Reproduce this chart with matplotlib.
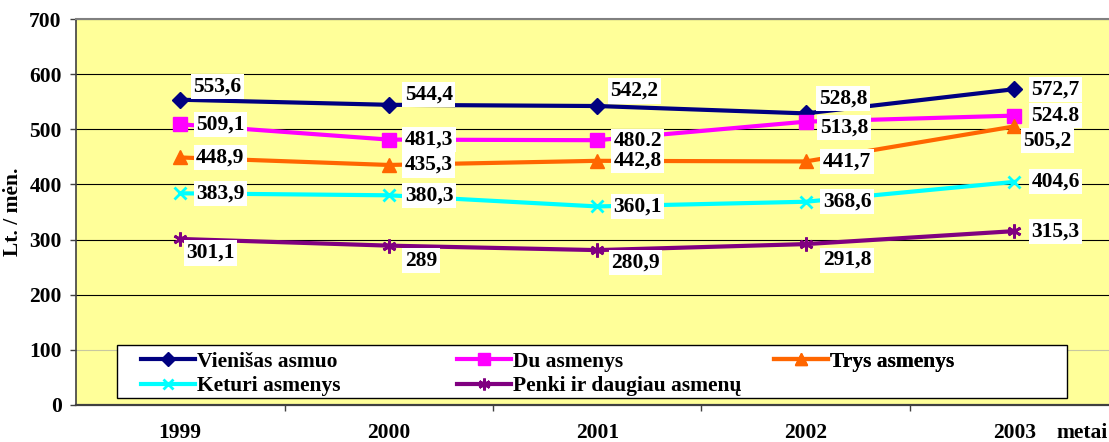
import matplotlib
matplotlib.use("Agg")
import matplotlib.pyplot as plt
from matplotlib.patches import Rectangle

years = ["1999", "2000", "2001", "2002", "2003"]

vienisas = [553.6, 544.4, 542.2, 528.8, 572.7]
du = [509.1, 481.3, 480.2, 513.8, 524.8]
trys = [448.9, 435.3, 442.8, 441.7, 505.2]
keturi = [383.9, 380.3, 360.1, 368.6, 404.6]
penki = [301.1, 289, 280.9, 291.8, 315.3]

vienisas_lbl = ["553,6", "544,4", "542,2", "528,8", "572,7"]
du_lbl = ["509,1", "481,3", "480.2", "513,8", "524.8"]
trys_lbl = ["448,9", "435,3", "442,8", "441,7", "505,2"]
keturi_lbl = ["383,9", "380,3", "360,1", "368,6", "404,6"]
penki_lbl = ["301,1", "289", "280,9", "291,8", "315,3"]

# label offsets in pixels (dx, dy up)
off_v = [(13, 13), (16, 10), (13, 15), (13, 15), (17, 0)]
off_d = [(16, 0), (16, 0), (16, -1), (14, -6), (17, 0)]
off_t = [(16, 0), (16, 0), (16, 0), (17, 0), (9, -14)]
off_k = [(16, 0), (16, 0), (16, 0), (17, 0), (17, 0)]
off_p = [(6, -14), (16, -15), (14, -12), (17, -16), (17, 0)]

FS = 15.5
plt.rcParams["font.family"] = "Liberation Serif"
plt.rcParams["font.weight"] = "bold"
plt.rcParams["font.size"] = FS

W, H = 1109, 442
fig = plt.figure(figsize=(W / 100, H / 100), dpi=100)
ax = fig.add_axes([76 / W, 37 / H, 1042.5 / W, 386 / H])
ax.set_facecolor("#FFFF99")

x = list(range(len(years)))
series = [
    ("Vienišas asmuo", vienisas, vienisas_lbl, "#000080", "D", 8.5, 1, off_v),
    ("Du asmenys", du, du_lbl, "#FF00FF", "s", 10, 1, off_d),
    ("Trys asmenys", trys, trys_lbl, "#FF6600", "^", 10, 1, off_t),
    ("Keturi asmenys", keturi, keturi_lbl, "#00FFFF", "x", 9, 2, off_k),
    ("Penki ir daugiau asmenų", penki, penki_lbl, "#800080", (6, 2, 0), 10, 2, off_p),
]

handles = {}
for name, vals, labels, color, marker, ms, mew, offs in series:
    line, = ax.plot(x, vals, color=color, lw=3, marker=marker, ms=ms, mew=mew,
                    mfc=color, mec=color, label=name, zorder=3)
    handles[name] = line
    for xi, v, lab, (dx, dy) in zip(x, vals, labels, offs):
        ax.annotate(lab, (xi, v), xytext=(dx, dy), textcoords="offset pixels",
                    ha="left", va="center", fontsize=FS, fontweight="bold",
                    bbox=dict(boxstyle="square,pad=0.12", fc="white", ec="none"),
                    zorder=5)

ax.set_xlim(-0.5, 4.5)
ax.set_ylim(0, 700)
ax.set_xticks(x)
ax.set_xticklabels(years)
ax.set_xticks([0.5, 1.5, 2.5, 3.5], minor=True)
ax.tick_params(axis="x", which="major", length=0, pad=13)
ax.tick_params(axis="x", which="minor", length=4.3, width=1, color="#404040", direction="out")
ax.set_yticks(range(0, 701, 100))
ax.tick_params(axis="y", length=4.3, width=1, color="#404040", pad=6)

ax.yaxis.grid(True, color="black", lw=0.8)
ax.set_axisbelow(True)
gl = ax.get_ygridlines()
gl[1].set_color("#c8c8a0")

ax.spines["right"].set_visible(False)
ax.spines["top"].set_color("#808080")
ax.spines["top"].set_linewidth(1.5)
ax.spines["left"].set_color("#404040")
ax.spines["left"].set_linewidth(1.2)
ax.spines["bottom"].set_color("#404040")
ax.spines["bottom"].set_linewidth(1.6)

ax.set_ylabel("Lt. / mėn.", fontsize=FS, fontweight="bold")
ax.yaxis.set_label_coords(-0.051, 0.5)
fig.text(1082 / W, 1 - 433 / H, "metai", ha="center", va="center", fontsize=FS, fontweight="bold")

# legend box
ax.add_patch(Rectangle((0.0393, 0.0181), 0.9113, 0.1373, transform=ax.transAxes,
                       fc="white", ec="black", lw=1, zorder=4.5, clip_on=False))
groups = [
    (["Vienišas asmuo", "Keturi asmenys"], 0.0624),
    (["Du asmenys", "Penki ir daugiau asmenų"], 0.3655),
    (["Trys asmenys"], 0.6695),
]
for names, x0 in groups:
    leg = ax.legend(handles=[handles[n] for n in names], loc="upper left",
                    bbox_to_anchor=(x0, 0.138), frameon=False, borderpad=0,
                    borderaxespad=0, handlelength=2.5, handletextpad=0.1,
                    labelspacing=0.2, fontsize=FS, markerscale=0.85)
    leg.set_zorder(6)
    ax.add_artist(leg)

fig.savefig("out.png", dpi=100)
